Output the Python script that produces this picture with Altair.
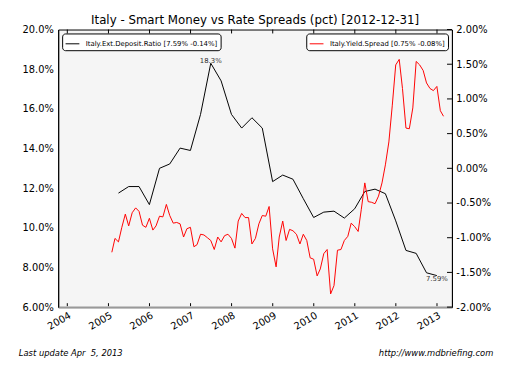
import altair as alt
import pandas as pd

FONT = "DejaVu Sans"
W, H = 400, 282

# ---------------- data ----------------
title_text = "Italy - Smart Money vs Rate Spreads (pct) [2012-12-31]"
deposit_label = "Italy.Ext.Deposit.Ratio [7.59% -0.14%]"
spread_label = "Italy.Yield.Spread [0.75% -0.08%]"
footer_left = "Last update Apr\u00a0 5, 2013"
footer_right = "http://www.mdbriefing.com"

# quarterly deposit ratio (%), quarter ends 2005Q1 .. 2012Q4
deposit_years = [y for y in range(2005, 2013) for _ in range(4)]
deposit_months = [3, 6, 9, 12] * 8
deposit_ratio = [11.75, 12.08, 12.08, 11.17,
                 13.00, 13.22, 14.02, 13.90,
                 15.72, 18.30, 17.41, 15.72,
                 15.03, 15.55, 15.03, 12.33,
                 12.66, 12.45, 11.47, 10.52,
                 10.79, 10.84, 10.49, 10.96,
                 11.83, 11.95, 11.72, 10.35,
                 8.86, 8.71, 7.73, 7.59]

# monthly yield spread (%), month ends Jan 2005 .. Feb 2013
spread_start_year = 2005
yield_spread = [
    -1.21, -1.01, -1.06, -0.85, -0.66, -0.83, -0.64, -0.57, -0.62, -0.82, -0.85, -0.72,  # 2005
    -0.89, -0.83, -0.69, -0.70, -0.52, -0.68, -0.79, -0.78, -0.80, -0.99, -0.87, -0.85,  # 2006
    -1.13, -1.10, -0.95, -0.96, -1.00, -1.04, -1.17, -0.99, -1.06, -0.97, -0.95, -1.01,  # 2007
    -1.15, -0.76, -0.65, -0.71, -0.71, -1.09, -1.01, -0.80, -0.68, -0.69, -0.55, -1.16,  # 2008
    -1.42, -0.99, -0.76, -1.04, -0.88, -0.90, -0.95, -1.09, -0.95, -1.04, -1.29, -1.31,  # 2009
    -1.55, -1.45, -1.23, -1.17, -1.81, -1.69, -1.18, -1.17, -1.04, -0.98, -0.79, -0.84,  # 2010
    -0.91, -0.59, -0.21, -0.48, -0.49, -0.51, -0.40, -0.21, 0.05, 0.38, 0.90, 1.49,      # 2011
    1.57, 1.15, 0.58, 0.57, 0.87, 1.54, 1.49, 1.41, 1.23, 1.15, 1.12, 1.18,              # 2012
    0.83, 0.75,                                                                          # 2013
]

x_tick_years = list(range(2004, 2014))
x_domain = ["2003-10-12", "2013-05-14"]

left_tick_values = [6, 8, 10, 12, 14, 16, 18, 20]
left_tick_labels = ["6.00%", "8.00%", "10.0%", "12.0%", "14.0%", "16.0%", "18.0%", "20.0%"]
right_tick_values = [-2.0, -1.5, -1.0, -0.5, 0.0, 0.5, 1.0, 1.5, 2.0]
right_tick_labels = ["-2.00%", "-1.50%", "-1.00%", "-0.50%", "0.00%", "0.50%", "1.00%", "1.50%", "2.00%"]

# ---------------- tables ----------------
dep_dates = [(pd.Timestamp(y, m, 1) + pd.offsets.MonthEnd(0)).strftime("%Y-%m-%d")
             for y, m in zip(deposit_years, deposit_months)]
dep_df = pd.DataFrame({"date": dep_dates, "value": deposit_ratio, "series": deposit_label})

sp_dates = []
for i in range(len(yield_spread)):
    y = spread_start_year + i // 12
    m = i % 12 + 1
    sp_dates.append((pd.Timestamp(y, m, 1) + pd.offsets.MonthEnd(0)).strftime("%Y-%m-%d"))
sp_df = pd.DataFrame({"date": sp_dates, "value": yield_spread, "series": spread_label})

imax = deposit_ratio.index(max(deposit_ratio))
peak_df = pd.DataFrame({"date": [dep_dates[imax]], "value": [deposit_ratio[imax]],
                        "txt": [f"{deposit_ratio[imax]:.1f}%"]})
last_df = pd.DataFrame({"date": [dep_dates[-1]], "value": [deposit_ratio[-1]],
                        "txt": [f"{deposit_ratio[-1]:.2f}%"]})

xticks_df = pd.DataFrame({"date": [f"{y}-01-01" for y in x_tick_years]})
rticks_df = pd.DataFrame({"value": right_tick_values})


def label_expr(values, labels):
    parts = [f"datum.value == {v} ? '{l}'" for v, l in zip(values, labels)]
    return " : ".join(parts) + " : ''"


x_scale = alt.Scale(domain=x_domain)
x_axis = alt.Axis(values=[f"{y}-01-01" for y in x_tick_years], format="%Y", labelAngle=-30,
                  labelAlign="right", labelBaseline="top", labelFontSize=10, labelFont=FONT,
                  labelColor="black", ticks=False, domainColor="#999999", domainWidth=2,
                  labelPadding=3, title=None, grid=False, labelOverlap=False)
X = alt.X("date:T", scale=x_scale, axis=x_axis)

left_scale = alt.Scale(domain=[6, 20], nice=False, zero=False)
left_axis = alt.Axis(values=left_tick_values, labelExpr=label_expr(left_tick_values, left_tick_labels),
                     labelFontSize=10, labelFont=FONT, labelColor="black", ticks=False,
                     domainColor="black", labelPadding=5, title=None, grid=False, orient="left")
right_scale = alt.Scale(domain=[-2, 2], nice=False, zero=False)
right_axis = alt.Axis(values=right_tick_values, labelExpr=label_expr(right_tick_values, right_tick_labels),
                      labelFontSize=10, labelFont=FONT, labelColor="black", ticks=False,
                      domainColor="black", labelPadding=4, title=None, grid=False, orient="right")

legend_common = dict(title=None, offset=4, fillColor="white", strokeColor="black", padding=3,
                     cornerRadius=3, labelFontSize=7, labelFont=FONT, labelColor="black",
                     symbolType="stroke", symbolSize=196, symbolStrokeWidth=1, labelLimit=400,
                     labelOffset=6)

# ---------------- left group ----------------
dep_line = alt.Chart(dep_df).mark_line(strokeWidth=1).encode(
    x=X,
    y=alt.Y("value:Q", scale=left_scale, axis=left_axis),
    color=alt.Color("series:N", scale=alt.Scale(domain=[deposit_label], range=["black"]),
                    legend=alt.Legend(orient="top-left", **legend_common)),
)
peak_txt = alt.Chart(peak_df).mark_text(font=FONT, fontSize=7, color="#333333",
                                        baseline="bottom", dy=1).encode(
    x=X, y=alt.Y("value:Q", scale=left_scale, axis=left_axis), text="txt:N")
last_txt = alt.Chart(last_df).mark_text(font=FONT, fontSize=7, color="#333333",
                                        baseline="top", dy=0).encode(
    x=X, y=alt.Y("value:Q", scale=left_scale, axis=left_axis), text="txt:N")
left_group = alt.layer(dep_line, peak_txt, last_txt)

# ---------------- right group ----------------
sp_line = alt.Chart(sp_df).mark_line(strokeWidth=1).encode(
    x=X,
    y=alt.Y("value:Q", scale=right_scale, axis=right_axis),
    color=alt.Color("series:N", scale=alt.Scale(domain=[spread_label], range=["#ff0000"]),
                    legend=alt.Legend(orient="top-right", **legend_common)),
)
rticks = alt.Chart(rticks_df).mark_rule(color="black", strokeWidth=1).encode(
    y=alt.Y("value:Q", scale=right_scale, axis=right_axis),
    x=alt.value(W - 5), x2=alt.value(W),
)
right_group = alt.layer(sp_line, rticks)

# ---------------- decorations ----------------
bticks = alt.Chart(xticks_df).mark_rule(color="black", strokeWidth=1).encode(
    x=X, y=alt.value(H - 4), y2=alt.value(H - 1))
tticks = alt.Chart(xticks_df).mark_rule(color="black", strokeWidth=1).encode(
    x=X, y=alt.value(0), y2=alt.value(4))
foot_l = alt.Chart(pd.DataFrame({"t": [footer_left]})).mark_text(
    font=FONT, fontSize=8.5, fontStyle="italic", align="left", baseline="middle").encode(
    x=alt.value(-40), y=alt.value(329), text="t:N")
foot_r = alt.Chart(pd.DataFrame({"t": [footer_right]})).mark_text(
    font=FONT, fontSize=8.5, fontStyle="italic", align="right", baseline="middle").encode(
    x=alt.value(442), y=alt.value(329), text="t:N")

chart = alt.layer(left_group, right_group, bticks, tticks, foot_l, foot_r).resolve_scale(
    y="independent", color="independent"
).properties(
    width=W, height=H,
    title=alt.Title(title_text, font=FONT, fontSize=12, fontWeight="normal", color="black",
                    anchor="middle", offset=-2),
    autosize=alt.AutoSizeParams(type="none"),
    padding={"left": 51, "top": 19, "right": 60, "bottom": 60},
    background="white",
).configure_view(
    fill="#f5f5f5", stroke="black", strokeWidth=1
)

chart.save("out.html", embed_options={"renderer": "svg", "actions": False})
